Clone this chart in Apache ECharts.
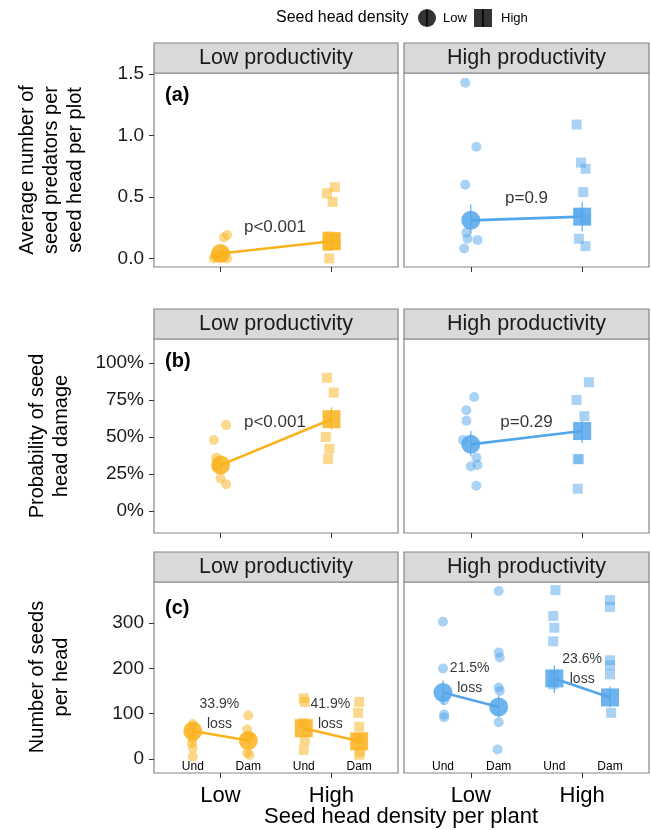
<!DOCTYPE html>
<html>
<head>
<meta charset="utf-8">
<script src="https://cdn.jsdelivr.net/npm/echarts@6/dist/echarts.min.js"></script>
<style>
  html, body { margin: 0; padding: 0; background: #fff; }
  #chart { width: 651px; height: 830px; }
</style>
</head>
<body>
<div id="chart"></div>
<script>
// x: 1 = Low, 2 = High seed head density. raw points are [jitter, value]
const densityLabels = ['Low', 'High'];
const stripLabels = ['Low productivity', 'High productivity'];
const damageLabels = ['Und', 'Dam'];

// (a) seed predators per seed head
const predLowProdLow = [[-0.06, 0.00], [0.06, 0.00], [-0.03, 0.03], [0.03, 0.05], [0.00, 0.01], [-0.05, 0.02], [0.03, 0.17], [0.06, 0.19]];
const predLowProdHigh = [[0.03, 0.58], [-0.04, 0.53], [0.01, 0.46], [-0.03, 0.18], [0.04, 0.17], [0.04, 0.11], [-0.03, 0.10], [-0.02, 0.00]];
const predHighProdLow = [[-0.05, 1.43], [0.05, 0.91], [-0.05, 0.60], [-0.04, 0.21], [-0.03, 0.16], [0.06, 0.15], [-0.06, 0.08]];
const predHighProdHigh = [[-0.05, 1.09], [-0.01, 0.78], [0.03, 0.73], [0.01, 0.54], [-0.03, 0.37], [0.03, 0.32], [-0.03, 0.16], [0.03, 0.10]];
const predMeanLowProd = [0.04, 0.14];
const predCiLowProd = [[0.02, 0.06], [0.09, 0.20]];
const predMeanHighProd = [0.31, 0.34];
const predCiHighProd = [[0.20, 0.44], [0.22, 0.46]];
const predP = ['p<0.001', 'p=0.9'];

// (b) probability of seed head damage
const dmgLowProdLow = [[0.05, 0.58], [-0.06, 0.48], [-0.04, 0.36], [-0.03, 0.30], [0.00, 0.22], [0.05, 0.18]];
const dmgLowProdHigh = [[-0.04, 0.90], [0.02, 0.80], [-0.05, 0.50], [-0.02, 0.42], [-0.03, 0.35]];
const dmgHighProdLow = [[0.03, 0.77], [-0.04, 0.68], [-0.04, 0.61], [-0.07, 0.48], [0.05, 0.36], [0.06, 0.31], [0.00, 0.30], [0.05, 0.17]];
const dmgHighProdHigh = [[0.06, 0.87], [-0.05, 0.75], [0.02, 0.64], [-0.03, 0.35], [-0.04, 0.35], [-0.04, 0.15]];
const dmgMeanLowProd = [0.31, 0.62];
const dmgCiLowProd = [[0.26, 0.38], [0.55, 0.70]];
const dmgMeanHighProd = [0.45, 0.54];
const dmgCiHighProd = [[0.37, 0.54], [0.46, 0.61]];
const dmgP = ['p<0.001', 'p=0.29'];

// (c) seeds per head, undamaged vs damaged (order: LowUnd, LowDam, HighUnd, HighDam)
const seedLowProdLowUnd = [[0, 77], [-0.01, 62], [0, 45], [-0.01, 35], [0, 24], [0, 5]];
const seedLowProdLowDam = [[0, 96], [-0.01, 65], [0.01, 49], [-0.01, 14], [0.01, 9]];
const seedLowProdHighUnd = [[0, 134], [0.01, 126], [0, 79], [0.01, 42], [0, 20]];
const seedLowProdHighDam = [[0, 126], [-0.01, 102], [0, 71], [0, 46], [0.01, 16], [0, 9]];
const seedHighProdLowUnd = [[0, 303], [0, 200], [0.01, 130], [0.01, 98], [0.01, 92]];
const seedHighProdLowDam = [[0, 371], [0, 235], [0.01, 224], [0, 158], [0.01, 150], [0, 81], [-0.01, 21]];
const seedHighProdHighUnd = [[0.01, 373], [-0.01, 316], [0, 290], [-0.01, 260], [0, 185], [-0.01, 165]];
const seedHighProdHighDam = [[0, 351], [0, 336], [0, 218], [0, 207], [0, 187], [0.01, 102]];
const seedMeanLowProd = [62, 41, 68, 39];
const seedCiLowProd = [[55, 70], [34, 48], [58, 78], [30, 48]];
const seedMeanHighProd = [147, 115, 178, 136];
const seedCiHighProd = [[120, 174], [92, 140], [146, 207], [114, 160]];
const lossLowProd = ['33.9%', '41.9%'];
const lossHighProd = ['21.5%', '23.6%'];

const ORANGE = '#F9B21B';
const BLUE = '#54A6EA';
const FONT = 'Liberation Sans, Arial, sans-serif';
const SUB_X = [0.75, 1.25, 1.75, 2.25];

const cols = [{ left: 154, width: 244 }, { left: 404, width: 245 }];
const rows = [{ top: 73, height: 194 }, { top: 339, height: 194 }, { top: 582, height: 191 }];

const chart = echarts.init(document.getElementById('chart'));

const grids = [], xAxes = [], yAxes = [], series = [], graphics = [];

const yCfg = [
  { min: -0.07, max: 1.51, ticks: [0, 0.5, 1, 1.5], fmt: v => v.toFixed(1) },
  { min: -0.149, max: 1.162, ticks: [0, 0.25, 0.5, 0.75, 1], fmt: v => Math.round(v * 100) + '%' },
  { min: -31, max: 391, ticks: [0, 100, 200, 300], fmt: v => String(v) },
];

rows.forEach((r, ri) => {
  cols.forEach((c, ci) => {
    const g = ri * 2 + ci;
    grids.push({ left: c.left, top: r.top, width: c.width, height: r.height,
      show: true, borderColor: '#858585', borderWidth: 1.2, backgroundColor: '#fff', containLabel: false });
    xAxes.push({
      type: 'value', gridIndex: g, min: 0.4, max: 2.6, position: 'bottom',
      splitLine: { show: false }, axisLine: { show: false, onZero: false },
      axisTick: { show: true, customValues: [1, 2], length: 5, lineStyle: { color: '#333', width: 1 } },
      axisLabel: { show: ri === 2, customValues: [1, 2], margin: 12,
        formatter: v => densityLabels[Math.round(v) - 1],
        fontSize: 22, color: '#000', fontFamily: FONT },
    });
    const yc = yCfg[ri];
    yAxes.push({
      type: 'value', gridIndex: g, min: yc.min, max: yc.max, position: 'left',
      splitLine: { show: false }, axisLine: { show: false, onZero: false },
      axisTick: { show: ci === 0, customValues: yc.ticks, length: 5, lineStyle: { color: '#333', width: 1 } },
      axisLabel: { show: ci === 0, customValues: yc.ticks, formatter: yc.fmt, margin: 10,
        fontSize: 19, color: '#1a1a1a', fontFamily: FONT },
    });
    // strip header
    graphics.push({ type: 'rect', shape: { x: c.left, y: r.top - 30, width: c.width, height: 30 },
      style: { fill: '#D9D9D9', stroke: '#858585', lineWidth: 1.2 }, z: 10 });
    graphics.push({ type: 'text', x: c.left + c.width / 2, y: r.top - 15, z: 11,
      style: { text: stripLabels[ci], font: '21.5px ' + FONT, fill: '#1a1a1a', align: 'center', verticalAlign: 'middle' } });
  });
});

// Und / Dam inner labels for row (c)
[4, 5].forEach(g => {
  xAxes.push({
    type: 'value', gridIndex: g, min: 0.4, max: 2.6, position: 'bottom',
    splitLine: { show: false }, axisLine: { show: false, onZero: false }, axisTick: { show: false },
    axisLabel: { inside: true, customValues: SUB_X, margin: 0,
      formatter: v => damageLabels[Math.round((v - 0.75) * 2) % 2],
      fontSize: 12, color: '#000', fontFamily: FONT },
  });
});

function jit(points, x) {
  return points.map(p => [x + p[0], p[1]]);
}

function rawSeries(g, data, symbol, color, size) {
  return { type: 'scatter', xAxisIndex: g, yAxisIndex: g, symbol, symbolSize: size, data, silent: true,
    itemStyle: { color, opacity: 0.5 }, z: 2 };
}

function meanLine(g, pts, color) {
  return { type: 'line', xAxisIndex: g, yAxisIndex: g, data: pts, symbol: 'none', silent: true,
    lineStyle: { color, width: 2.6 }, z: 3 };
}

function meanSeries(g, pts, symbol, color, size) {
  return { type: 'scatter', xAxisIndex: g, yAxisIndex: g, symbol, symbolSize: size, data: pts, silent: true,
    itemStyle: { color, opacity: 0.85 }, z: 4 };
}

function errSeries(g, bars, color) {
  return {
    type: 'custom', xAxisIndex: g, yAxisIndex: g, silent: true, z: 5,
    data: bars, encode: { x: 0, y: [1, 2] },
    renderItem(params, api) {
      const p1 = api.coord([api.value(0), api.value(1)]);
      const p2 = api.coord([api.value(0), api.value(2)]);
      return { type: 'line', shape: { x1: p1[0], y1: p1[1], x2: p2[0], y2: p2[1] },
        style: { stroke: color, lineWidth: 1.2, opacity: 0.9 } };
    },
  };
}

function noteSeries(g, notes, size) {
  return { type: 'scatter', xAxisIndex: g, yAxisIndex: g, symbolSize: 1, silent: true, z: 6,
    itemStyle: { color: 'transparent' },
    label: { show: true, position: 'inside', formatter: '{b}', fontSize: size, color: '#000', fontFamily: FONT },
    data: notes.map(n => ({ name: n[0], value: [n[1], n[2]] })) };
}

// panels (a) and (b)
function twoGroupPanel(g, low, high, means, ci, color, note) {
  series.push(rawSeries(g, jit(low, 1), 'circle', color, 10));
  series.push(rawSeries(g, jit(high, 2), 'rect', color, 10));
  series.push(meanLine(g, [[1, means[0]], [2, means[1]]], color));
  series.push(meanSeries(g, [[1, means[0]]], 'circle', color, 19));
  series.push(meanSeries(g, [[2, means[1]]], 'rect', color, 18));
  series.push(errSeries(g, [[1, ci[0][0], ci[0][1]], [2, ci[1][0], ci[1][1]]], color));
  series.push(noteSeries(g, [note], 17));
}

twoGroupPanel(0, predLowProdLow, predLowProdHigh, predMeanLowProd, predCiLowProd, ORANGE, [predP[0], 1.49, 0.25]);
twoGroupPanel(1, predHighProdLow, predHighProdHigh, predMeanHighProd, predCiHighProd, BLUE, [predP[1], 1.5, 0.49]);
twoGroupPanel(2, dmgLowProdLow, dmgLowProdHigh, dmgMeanLowProd, dmgCiLowProd, ORANGE, [dmgP[0], 1.49, 0.60]);
twoGroupPanel(3, dmgHighProdLow, dmgHighProdHigh, dmgMeanHighProd, dmgCiHighProd, BLUE, [dmgP[1], 1.5, 0.60]);

// panels (c)
function seedPanel(g, groups, means, ci, color, notes) {
  groups.forEach((grp, i) => {
    series.push(rawSeries(g, jit(grp, SUB_X[i]), i < 2 ? 'circle' : 'rect', color, 10));
  });
  series.push(meanLine(g, [[SUB_X[0], means[0]], [SUB_X[1], means[1]]], color));
  series.push(meanLine(g, [[SUB_X[2], means[2]], [SUB_X[3], means[3]]], color));
  series.push(meanSeries(g, [[SUB_X[0], means[0]], [SUB_X[1], means[1]]], 'circle', color, 19));
  series.push(meanSeries(g, [[SUB_X[2], means[2]], [SUB_X[3], means[3]]], 'rect', color, 18));
  series.push(errSeries(g, ci.map((c, i) => [SUB_X[i], c[0], c[1]]), color));
  series.push(noteSeries(g, notes, 14));
}

seedPanel(4, [seedLowProdLowUnd, seedLowProdLowDam, seedLowProdHighUnd, seedLowProdHighDam],
  seedMeanLowProd, seedCiLowProd, ORANGE,
  [[lossLowProd[0], 0.99, 121], ['loss', 0.99, 77], [lossLowProd[1], 1.99, 121], ['loss', 1.99, 77]]);
seedPanel(5, [seedHighProdLowUnd, seedHighProdLowDam, seedHighProdHighUnd, seedHighProdHighDam],
  seedMeanHighProd, seedCiHighProd, BLUE,
  [[lossHighProd[0], 0.99, 200], ['loss', 0.99, 156], [lossHighProd[1], 2.0, 220], ['loss', 2.0, 176]]);

// panel tags
[['(a)', 95], ['(b)', 361], ['(c)', 608]].forEach(t => {
  graphics.push({ type: 'text', x: 165, y: t[1], z: 12,
    style: { text: t[0], font: 'bold 20px ' + FONT, fill: '#000', align: 'left', verticalAlign: 'middle' } });
});

// y axis titles
[['Average number of\nseed predators per\nseed head per plot', 51, 170],
 ['Probability of seed\nhead damage', 49, 436],
 ['Number of seeds\nper head', 49, 677]].forEach(t => {
  graphics.push({ type: 'text', x: t[1], y: t[2], rotation: Math.PI / 2, z: 12,
    style: { text: t[0], font: '20px ' + FONT, lineHeight: 24, fill: '#000', align: 'center', verticalAlign: 'middle' } });
});

// x axis title
graphics.push({ type: 'text', x: 401, y: 817, z: 12,
  style: { text: 'Seed head density per plant', font: '22px ' + FONT, fill: '#000', align: 'center', verticalAlign: 'middle' } });

// legend
graphics.push({ type: 'text', x: 276, y: 18, style: { text: 'Seed head density', font: '16px ' + FONT, fill: '#000', verticalAlign: 'middle' } });
graphics.push({ type: 'circle', shape: { cx: 427, cy: 18, r: 9 }, style: { fill: '#333' } });
graphics.push({ type: 'line', shape: { x1: 427, y1: 10, x2: 427, y2: 26 }, style: { stroke: '#000', lineWidth: 1.5 } });
graphics.push({ type: 'text', x: 443, y: 18, style: { text: 'Low', font: '13px ' + FONT, fill: '#000', verticalAlign: 'middle' } });
graphics.push({ type: 'rect', shape: { x: 474, y: 9, width: 18, height: 18 }, style: { fill: '#333' } });
graphics.push({ type: 'line', shape: { x1: 483, y1: 9, x2: 483, y2: 27 }, style: { stroke: '#000', lineWidth: 1.5 } });
graphics.push({ type: 'text', x: 501, y: 18, style: { text: 'High', font: '13px ' + FONT, fill: '#000', verticalAlign: 'middle' } });

chart.setOption({
  animation: false,
  backgroundColor: '#fff',
  textStyle: { fontFamily: FONT },
  grid: grids,
  xAxis: xAxes,
  yAxis: yAxes,
  series,
  graphic: graphics,
});
</script>
</body>
</html>
